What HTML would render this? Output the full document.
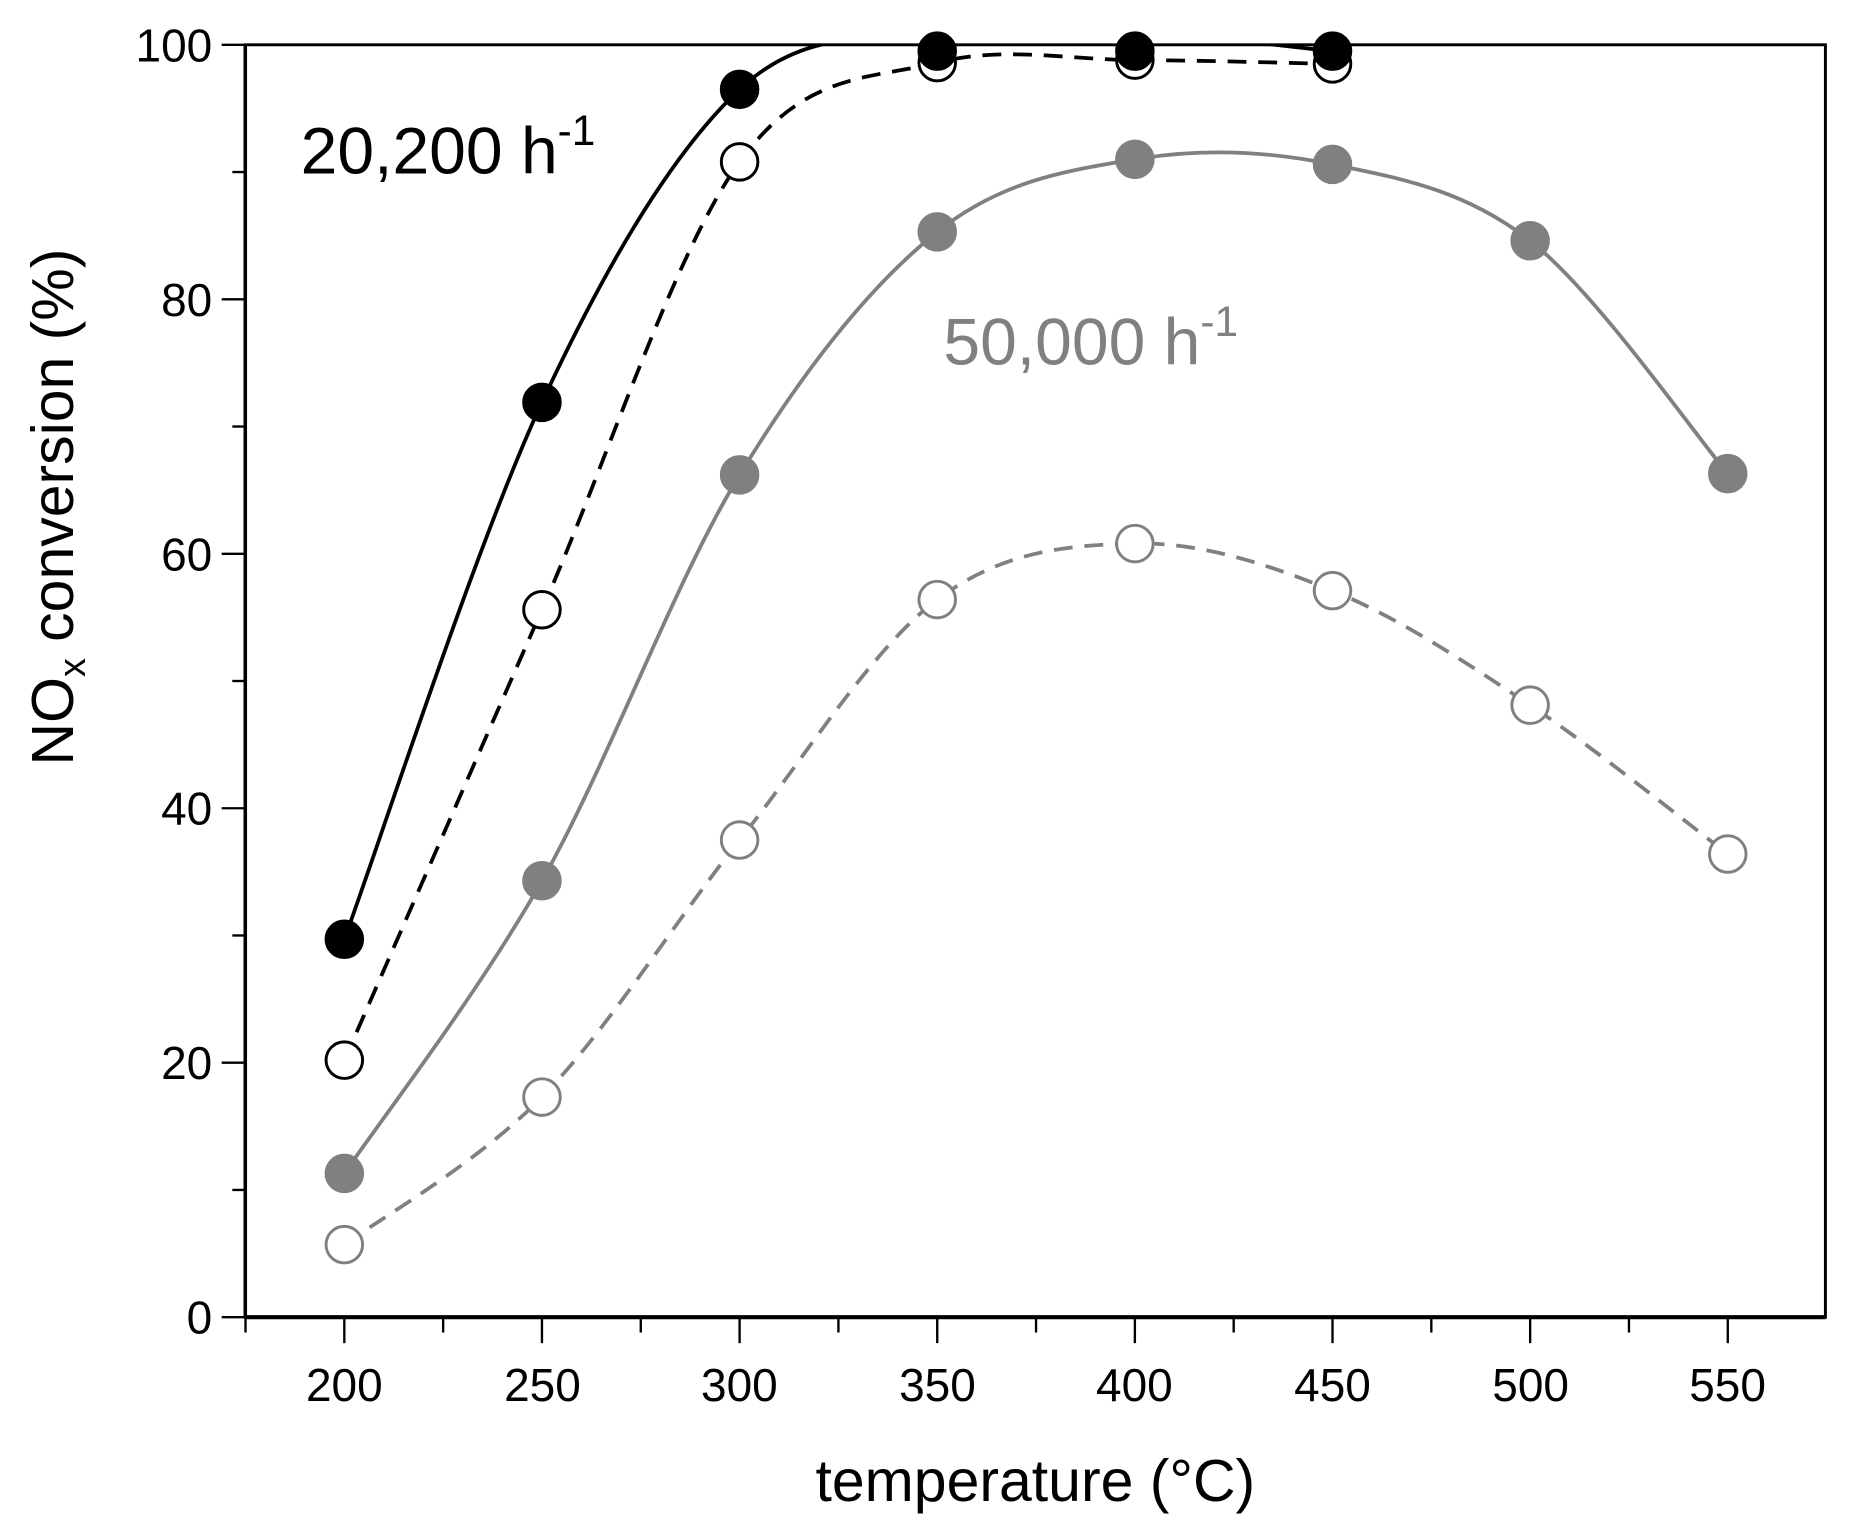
<!DOCTYPE html>
<html><head><meta charset="utf-8"><style>html,body{margin:0;padding:0;background:#fff}svg{display:block}</style></head>
<body>
<svg id="s" width="1849" height="1533" viewBox="0 0 1568 1300" preserveAspectRatio="none" xmlns="http://www.w3.org/2000/svg" font-family="Liberation Sans, sans-serif">
<defs><clipPath id="c"><rect x="208" y="38" width="1340" height="1079"/></clipPath></defs>
<rect x="208" y="38" width="1340" height="1079" fill="none" stroke="#000" stroke-width="2.5"/>
<line x1="208" y1="1117" x2="1548" y2="1117" stroke="#000" stroke-width="3.5"/>
<line x1="208" y1="38" x2="208" y2="1117" stroke="#000" stroke-width="3"/>
<g id="ticks" stroke="#000" stroke-width="2"></g>
<g id="curves" clip-path="url(#c)" fill="none" stroke-width="3.2"></g>
<g id="marks" stroke-width="2.5"></g>
<g font-size="39" text-anchor="end" fill="#000">
<text x="180" y="1131">0</text><text x="180" y="915">20</text><text x="180" y="699">40</text><text x="180" y="484">60</text><text x="180" y="268">80</text><text x="180" y="52">100</text>
</g>
<g font-size="39" text-anchor="middle" fill="#000">
<text x="292" y="1188">200</text><text x="460" y="1188">250</text><text x="627" y="1188">300</text><text x="795" y="1188">350</text><text x="962" y="1188">400</text><text x="1130" y="1188">450</text><text x="1298" y="1188">500</text><text x="1465" y="1188">550</text>
</g>
<text x="878" y="1273" font-size="50" text-anchor="middle">temperature (°C)</text>
<text transform="translate(62,430) rotate(-90)" font-size="50" text-anchor="middle">NO<tspan font-size="32" dy="10">x</tspan><tspan dy="-10"> conversion (%)</tspan></text>
<text x="255" y="147" font-size="56">20,200 h<tspan font-size="36" dy="-24">-1</tspan></text>
<text x="800" y="309" font-size="56" fill="#808080">50,000 h<tspan font-size="36" dy="-24">-1</tspan></text>
</svg>
<script>
const X=t=>292+(t-200)*167.6/50, Y=v=>1117-v*10.79;
const ns="http://www.w3.org/2000/svg";
function el(p,n,a){const e=document.createElementNS(ns,n);for(const k in a)e.setAttribute(k,a[k]);document.getElementById(p).appendChild(e);}
for(let t=175;t<=575;t+=25){const x=X(t);if(x<208||x>1548)continue;const maj=t%50==0;el("ticks","line",{x1:x,y1:1117,x2:x,y2:1117+(maj?22:13)});}
for(let v=0;v<=100;v+=10){const y=Y(v);el("ticks","line",{x1:208,y1:y,x2:208-(v%20==0?20:11),y2:y});}
const T=[200,250,300,350,400,450,500,550];
const S=[
{d:[29.7,71.9,96.5,101,101,99.5],m:[29.7,71.9,96.5,99.5,99.5,99.5],c:"#000",dash:null,fill:"#000"},
{d:[20.2,55.6,90.8,98.6,98.8,98.5],m:null,c:"#000",dash:"16 10",fill:"#fff"},
{d:[11.3,34.3,66.2,85.3,91.0,90.6,84.6,66.3],m:null,c:"#808080",dash:null,fill:"#808080"},
{d:[5.7,17.3,37.5,56.4,60.8,57.1,48.1,36.4],m:null,c:"#808080",dash:"16 10",fill:"#fff"}];
S.forEach(s=>{const p=s.d.map((v,i)=>[X(T[i]),Y(v)]);let d="M"+p[0];
for(let i=0;i<p.length-1;i++){const a=p[i-1]||p[i],b=p[i],c=p[i+1],e=p[i+2]||c;
d+=` C${b[0]+(c[0]-a[0])/6},${b[1]+(c[1]-a[1])/6} ${c[0]-(e[0]-b[0])/6},${c[1]-(e[1]-b[1])/6} ${c[0]},${c[1]}`;}
const a={d:d,stroke:s.c};if(s.dash)a["stroke-dasharray"]=s.dash;el("curves","path",a);});
[3,2,1,0].forEach(k=>{const s=S[k];(s.m||s.d).forEach((v,i)=>el("marks","circle",{cx:X(T[i]),cy:Y(Math.min(v,99.5)),r:15.5,fill:s.fill,stroke:s.c}));});
</script>
</body></html>
